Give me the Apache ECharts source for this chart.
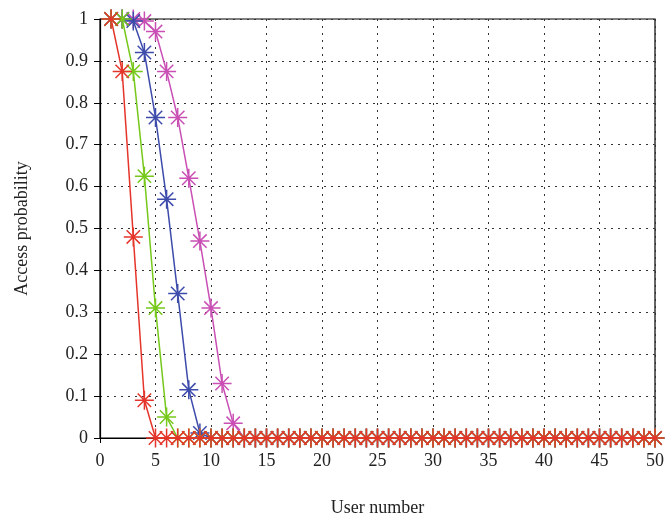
<!DOCTYPE html>
<html>
<head>
<meta charset="utf-8">
<script src="https://cdn.jsdelivr.net/npm/echarts@6/dist/echarts.min.js"></script>
<style>html,body{margin:0;padding:0;background:#fff}#c{width:666px;height:517px}</style>
</head>
<body>
<div id="c"></div>
<script>
var userNumbers = [];
for (var i = 1; i <= 50; i++) userNumbers.push(i);

var redHead = [1, 0.875, 0.48, 0.09];
var greenHead = [1, 1, 0.875, 0.625, 0.31, 0.05];
var blueHead = [1, 1, 0.995, 0.92, 0.765, 0.57, 0.345, 0.115, 0.012];
var magentaHead = [1, 1, 1, 0.995, 0.97, 0.875, 0.765, 0.62, 0.47, 0.31, 0.13, 0.035];

function full(head) {
  var out = head.slice();
  while (out.length < 50) out.push(0);
  return out;
}
var redVals = full(redHead);
var greenVals = full(greenHead);
var blueVals = full(blueHead);
var magentaVals = full(magentaHead);

var star = 'path://M0,-10L0,10M-10,0L10,0M-7.07,-7.07L7.07,7.07M-7.07,7.07L7.07,-7.07';

function mk(name, vals, color) {
  return {
    name: name,
    type: 'line',
    data: userNumbers.map(function (x, i) { return [x, vals[i]]; }),
    symbol: star,
    symbolSize: 19,
    showSymbol: true,
    lineStyle: { color: color, width: 1.5 },
    itemStyle: { color: 'none', borderColor: color, borderWidth: 1.5 },
    animation: false
  };
}

var font = '"Liberation Serif", "DejaVu Serif", serif';
var chart = echarts.init(document.getElementById('c'), null, { renderer: 'canvas' });
chart.setOption({
  backgroundColor: '#fff',
  animation: false,
  grid: { left: 100, right: 11, top: 19, bottom: 79, outerBoundsMode: 'none', containLabel: false, show: true, borderColor: '#000', borderWidth: 1.2, backgroundColor: 'transparent' },
  xAxis: {
    type: 'value', min: 0, max: 50, interval: 5,
    name: 'User number', nameLocation: 'middle', nameGap: 61,
    nameTextStyle: { fontFamily: font, fontSize: 18, color: '#222' },
    axisLine: { lineStyle: { color: '#000', width: 1.2 } },
    axisTick: { show: true, length: 5, lineStyle: { color: '#000' } },
    axisLabel: { fontFamily: font, fontSize: 18, color: '#222', margin: 14 },
    splitLine: { show: true, lineStyle: { color: '#333', type: [2, 5], width: 1 } }
  },
  yAxis: {
    type: 'value', min: 0, max: 1, interval: 0.1,
    name: 'Access probability', nameLocation: 'middle', nameGap: 69,
    nameTextStyle: { fontFamily: font, fontSize: 18, color: '#222' },
    axisLine: { show: true, lineStyle: { color: '#000', width: 1.2 } },
    axisTick: { show: true, length: 6, lineStyle: { color: '#000' } },
    axisLabel: { fontFamily: font, fontSize: 18, color: '#222', margin: 12 },
    splitLine: { show: true, lineStyle: { color: '#333', type: [2, 5], width: 1 } }
  },
  series: [
    mk('m', magentaVals, '#c94fb4'),
    mk('b', blueVals, '#3d4bab'),
    mk('g', greenVals, '#76c81a'),
    mk('r', redVals, '#e5352b')
  ]
});
</script>
</body>
</html>
